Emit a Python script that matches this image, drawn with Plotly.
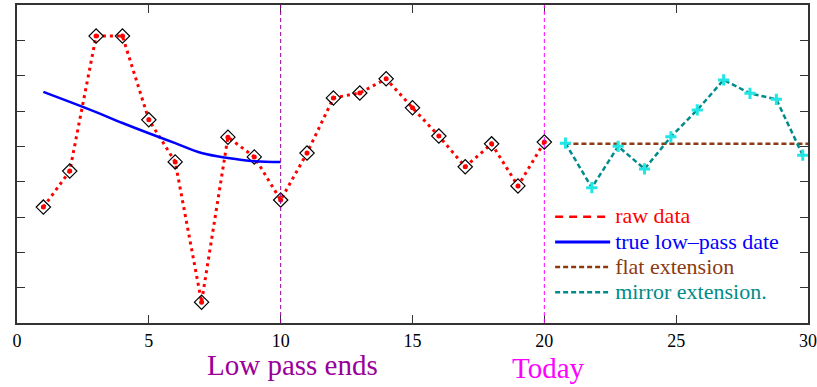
import plotly.graph_objects as go

# ---- data (arbitrary y units) ----
raw_x = list(range(1, 21))
raw_y = [3.28, 4.30, 8.12, 8.12, 5.75, 4.56, 0.59, 5.26, 4.70, 3.48,
         4.81, 6.37, 6.51, 6.91, 6.09, 5.29, 4.42, 5.07, 3.88, 5.12]

lowpass_x = list(range(1, 11))
lowpass_y = [6.54, 6.26, 5.97, 5.66, 5.37, 5.09, 4.81, 4.67, 4.58, 4.56]

ext_x = [20.8, 21.8, 22.8, 23.8, 24.8, 25.8, 26.8, 27.8, 28.8, 29.8]
mirror_y = [5.09, 3.83, 5.00, 4.36, 5.27, 6.03, 6.88, 6.50, 6.33, 4.75]

flat_x = [20.8, 30.2]
flat_y = [5.07, 5.07]

LOW_PASS_END = 10
TODAY = 20
x_ticks = [0, 5, 10, 15, 20, 25, 30]

SERIF = "Liberation Serif"
RED = "#ff0000"
BLUE = "#0000ff"
BROWN = "#8b3a12"
TEAL = "#008b8b"
CYAN = "#22e6e6"
PURPLE = "#990099"
MAGENTA = "#ff00ff"

fig = go.Figure()

# raw data line + diamonds
fig.add_trace(go.Scatter(x=raw_x, y=raw_y, mode="lines", showlegend=False,
                         line=dict(color=RED, width=3, dash="3px,4px")))
fig.add_trace(go.Scatter(x=raw_x, y=raw_y, mode="markers", showlegend=False,
                         marker=dict(symbol="diamond-open", size=11, color="black",
                                     line=dict(width=1.2, color="black"))))
fig.add_trace(go.Scatter(x=raw_x, y=raw_y, mode="markers", showlegend=False,
                         marker=dict(symbol="circle", size=5, color=RED)))

# low pass
fig.add_trace(go.Scatter(x=lowpass_x, y=lowpass_y, mode="lines", showlegend=False,
                         line=dict(color=BLUE, width=2.5, shape="spline")))

# flat extension
fig.add_trace(go.Scatter(x=flat_x, y=flat_y, mode="lines", showlegend=False,
                         line=dict(color=BROWN, width=2.5, dash="5px,3px")))

# mirror extension
fig.add_trace(go.Scatter(x=ext_x, y=mirror_y, mode="lines", showlegend=False,
                         line=dict(color=TEAL, width=2.5, dash="5px,3px")))
fig.add_trace(go.Scatter(x=ext_x, y=mirror_y, mode="markers", showlegend=False,
                         marker=dict(symbol="cross-thin", size=8, color=CYAN,
                                     line=dict(width=3, color=CYAN))))

# legend-only entries
legend_items = [
    ("raw data", RED, "8px,6px", 2.5),
    ("true low\u2013pass date", BLUE, "solid", 3),
    ("flat extension", BROWN, "5px,3px", 2.5),
    ("mirror extension.", TEAL, "5px,3px", 2.5),
]
for name, col, dash, w in legend_items:
    fig.add_trace(go.Scatter(
        x=[None], y=[None], mode="lines",
        name=f"<span style='color:{col};font-size:22px'>{name}</span>",
        line=dict(color=col, width=w, dash=dash)))

fig.add_vline(x=LOW_PASS_END, line=dict(color=PURPLE, width=1, dash="4px,3px"))
fig.add_vline(x=TODAY, line=dict(color=MAGENTA, width=1, dash="4px,3px"))

fig.add_annotation(x=10.43, y=-0.132, xref="x", yref="paper", text="Low pass ends",
                   showarrow=False, xanchor="center", yanchor="middle",
                   font=dict(family=SERIF, size=29, color=PURPLE))
fig.add_annotation(x=20.17, y=-0.1415, xref="x", yref="paper", text="Today",
                   showarrow=False, xanchor="center", yanchor="middle",
                   font=dict(family=SERIF, size=29, color=MAGENTA))

fig.update_layout(
    width=817, height=387,
    margin=dict(l=17, r=9, t=5, b=64, autoexpand=False),
    plot_bgcolor="white", paper_bgcolor="white",
    font=dict(family=SERIF, size=18, color="black"),
    legend=dict(x=0.674, y=0.389, xanchor="left", yanchor="top",
                bgcolor="rgba(255,255,255,0)", font=dict(family=SERIF, size=17),
                tracegroupgap=0, itemwidth=55),
    showlegend=True,
)
fig.update_xaxes(range=[0, 30], tickvals=x_ticks, ticks="inside", ticklen=8,
                 tickcolor="#333", showgrid=False, zeroline=False, automargin=False,
                 showline=True, linecolor="#333", linewidth=2, mirror="ticks",
                 tickfont=dict(family=SERIF, size=18))
fig.update_yaxes(range=[0, 9], dtick=1, ticks="inside", ticklen=8,
                 tickcolor="#333", showgrid=False, zeroline=False, automargin=False,
                 showline=True, linecolor="#333", linewidth=2, mirror="ticks",
                 showticklabels=False)

fig.write_html("out.html", config={"displayModeBar": False},
               post_script="document.body.style.margin='0';document.body.style.padding='0';")
